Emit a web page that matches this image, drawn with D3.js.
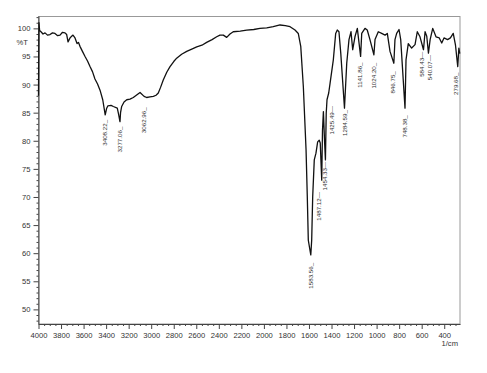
<head>
<script src="https://d3js.org/d3.v7.min.js"></script>
</head>
<body style="margin:0;background:#fff">
<div id="chart"></div>
<script>
// spectrum: wavenumber (1/cm) and %T
const wavenumbers = [4000, 3996, 3990, 3978, 3960, 3942, 3920, 3898, 3876, 3854, 3830, 3809, 3787, 3765, 3750, 3738,
  3720, 3706, 3694, 3676, 3658, 3645, 3632, 3610, 3587, 3565, 3543, 3521, 3499, 3476, 3454, 3430, 3408, 3395, 3385,
  3356, 3336, 3301, 3290, 3277, 3272, 3262, 3241, 3217, 3188, 3159, 3126, 3099, 3063, 3040, 3011, 2981, 2957, 2937,
  2917, 2893, 2862, 2833, 2800, 2774, 2730, 2685, 2640, 2596, 2550, 2508, 2460, 2419, 2390, 2360, 2330, 2301, 2272,
  2210, 2153, 2090, 2035, 1975, 1917, 1857, 1810, 1768, 1724, 1695, 1673, 1650, 1626, 1615, 1606, 1584, 1576, 1567,
  1553, 1538, 1523, 1509, 1500, 1487, 1480, 1472, 1462, 1454, 1447, 1440, 1425, 1413, 1384, 1363, 1349, 1334, 1318,
  1285, 1265, 1245, 1227, 1212, 1192, 1171, 1142, 1132, 1103, 1083, 1059, 1024, 1014, 985, 955, 925, 905, 881, 847,
  837, 822, 801, 786, 748, 739, 719, 689, 659, 639, 615, 584, 570, 555, 540, 525, 502, 473, 444, 422, 402, 370, 345,
  320, 300, 280, 270, 262];
const transmittance = [88.0, 101.0, 99.6, 99.4, 99.0, 99.2, 98.8, 98.9, 99.2, 99.1, 98.7, 98.8, 99.3, 99.2, 98.9, 97.6,
  98.3, 98.6, 98.8, 98.3, 97.3, 97.5, 96.8, 95.9, 95.0, 94.2, 93.2, 92.3, 91.0, 90.1, 89.0, 87.3, 84.6, 85.8, 86.2,
  86.3, 86.1, 85.8, 84.8, 83.4, 85.0, 86.1, 86.9, 87.3, 87.4, 87.7, 88.2, 88.6, 87.9, 87.7, 87.8, 87.9, 88.1, 88.5,
  89.5, 90.8, 92.2, 93.2, 94.1, 94.7, 95.4, 95.9, 96.3, 96.7, 97.0, 97.5, 98.0, 98.5, 98.8, 98.8, 98.4, 99.0, 99.4,
  99.5, 99.7, 99.8, 100.0, 100.1, 100.3, 100.6, 100.5, 100.3, 99.7, 99.1, 96.8, 89.6, 78.4, 70.1, 62.3, 59.7, 62.3, 70.1,
  76.6, 77.8, 79.8, 80.1, 79.6, 73.0, 81.9, 85.2, 80.0, 76.6, 84.9, 87.3, 88.5, 90.2, 94.4, 99.1, 99.7, 99.4, 95.6,
  85.8, 93.8, 98.0, 99.4, 96.2, 98.5, 100.0, 95.0, 99.1, 100.0, 99.7, 98.0, 95.3, 98.0, 99.4, 99.1, 98.8, 99.1, 95.9, 93.8,
  98.0, 99.1, 99.8, 98.0, 85.8, 94.4, 97.3, 96.5, 97.1, 99.4, 98.5, 96.2, 99.4, 98.6, 95.6, 98.0, 100.0, 98.5, 98.3, 97.4,
  98.3, 98.0, 98.3, 99.1, 97.0, 93.2, 96.5, 95.5];

const peakLabels = ["3408.22", "3277.06", "3062.96", "1583.56", "1487.12", "1454.33", "1425.49", "1284.59",
  "1141.86", "1024.20", "846.75", "748.38", "584.43", "540.07", "279.68"];
const peakWn = [3408, 3277, 3063, 1584, 1487, 1454, 1425, 1285, 1142, 1024, 847, 748, 584, 540, 280];

const yMajor = [50, 55, 60, 65, 70, 75, 80, 85, 90, 95, 100];
const xMajor = [4000, 3800, 3600, 3400, 3200, 3000, 2800, 2600, 2400, 2200, 2000, 1800, 1600, 1400, 1200, 1000, 800, 600, 400];

const width = 487, height = 373;
const font = "'Liberation Sans', Arial, sans-serif";
const svg = d3.select("#chart").append("svg").attr("width", width).attr("height", height)
  .style("font-family", font);

const x = d3.scaleLinear().domain([4000, 260]).range([38.5, 460]);
const y = d3.scaleLinear().domain([47.4, 102.2]).range([324, 16]);

// frame
svg.append("rect").attr("x", 38.5).attr("y", 16.5).attr("width", 421.5).attr("height", 307.5)
  .attr("fill", "none").attr("stroke", "#999").attr("stroke-width", 1);

// minor ticks
const yMinor = d3.range(48, 103, 1).filter(v => v % 5 != 0);
const xMinor = d3.range(4000, 290, -50).filter(v => v % 200 != 0);

svg.append("g").attr("transform", "translate(38.5,0)")
  .call(d3.axisLeft(y).tickValues(yMinor).tickSize(2).tickFormat(""))
  .call(g => g.select(".domain").remove());
svg.append("g").attr("transform", "translate(0,324)")
  .call(d3.axisBottom(x).tickValues(xMinor).tickSize(2).tickFormat(""))
  .call(g => g.select(".domain").remove());

svg.append("g").attr("transform", "translate(38.5,0)")
  .call(d3.axisLeft(y).tickValues(yMajor).tickFormat(d3.format("d")).tickSize(5).tickPadding(3).tickSizeOuter(0));
svg.append("g").attr("transform", "translate(0,324)")
  .call(d3.axisBottom(x).tickValues(xMajor).tickFormat(d3.format("d")).tickSize(5).tickPadding(4).tickSizeOuter(0));

svg.selectAll("g").attr("font-family", font);
svg.selectAll(".tick line, .domain").attr("stroke", "#444");
svg.selectAll(".tick text").attr("font-size", 7.6).attr("fill", "#333");

svg.append("text").attr("x", 28).attr("y", 45).attr("text-anchor", "end")
  .attr("font-size", 7.6).attr("fill", "#333").text("%T");
svg.append("text").attr("x", 458).attr("y", 346).attr("text-anchor", "end")
  .attr("font-size", 7.6).attr("fill", "#333").text("1/cm");

// spectrum
const pts = wavenumbers.map((w, i) => [w, transmittance[i]]);
const line = d3.line().x(d => x(d[0])).y(d => y(d[1]));
svg.append("path").datum(pts).attr("d", line)
  .attr("fill", "none").attr("stroke", "#111").attr("stroke-width", 1.3).attr("stroke-linejoin", "round");

// peak labels, rotated; shift = [dx, dy] from the peak bottom
const labelShift = [[0, 5], [0, 5], [0, 11], [0, 8], [-3, 12], [-1, 2], [3, 13], [0, 2],
  [-0.5, 6], [0, 8], [-1, 8], [0, 7], [-2, 2], [1, 2], [-1.5, 6]];
const leader = [false, false, false, false, true, true, true, false, false, false, false, false, true, true, false];
peakLabels.forEach((lab, i) => {
  const w = peakWn[i];
  const p = pts.reduce((a, b) => Math.abs(b[0] - w) < Math.abs(a[0] - w) ? b : a);
  const px = x(w) + labelShift[i][0], py = y(p[1]) + labelShift[i][1];
  svg.append("text")
    .attr("transform", `translate(${px},${py}) rotate(-90)`)
    .attr("text-anchor", "end").attr("dy", "0.35em")
    .attr("font-size", 6.2).attr("fill", "#333")
    .text(lab + (leader[i] ? "\u2014" : "_"));
});
</script>
</body>
